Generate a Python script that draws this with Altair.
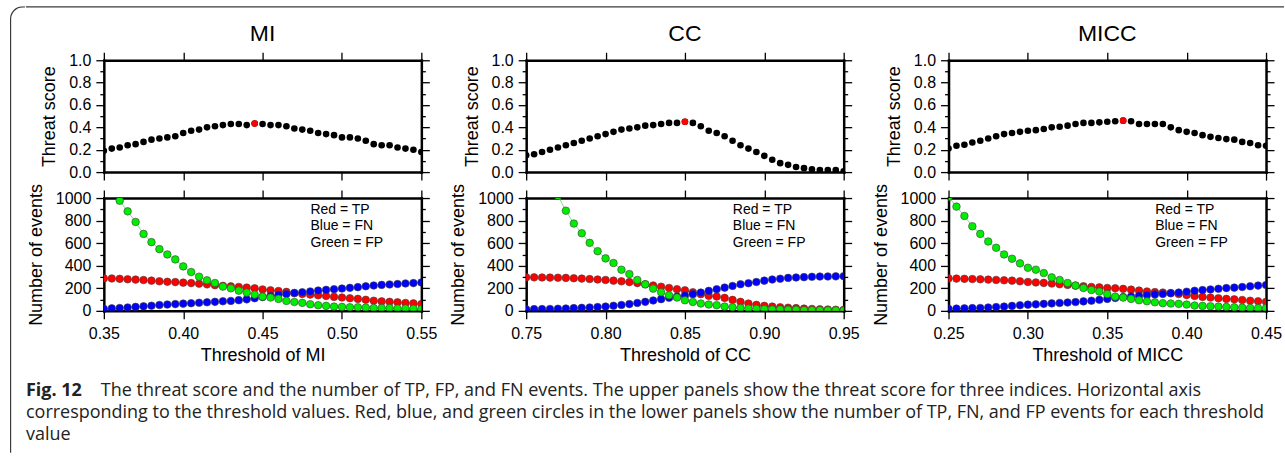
import altair as alt
import pandas as pd

# ---------------- data ----------------
THR_MI = [0.350, 0.355, 0.360, 0.365, 0.370, 0.375, 0.380, 0.385, 0.390, 0.395,
          0.400, 0.405, 0.410, 0.415, 0.420, 0.425, 0.430, 0.435, 0.440, 0.445,
          0.450, 0.455, 0.460, 0.465, 0.470, 0.475, 0.480, 0.485, 0.490, 0.495,
          0.500, 0.505, 0.510, 0.515, 0.520, 0.525, 0.530, 0.535, 0.540, 0.545, 0.550]
THR_CC = [0.750, 0.755, 0.760, 0.765, 0.770, 0.775, 0.780, 0.785, 0.790, 0.795,
          0.800, 0.805, 0.810, 0.815, 0.820, 0.825, 0.830, 0.835, 0.840, 0.845,
          0.850, 0.855, 0.860, 0.865, 0.870, 0.875, 0.880, 0.885, 0.890, 0.895,
          0.900, 0.905, 0.910, 0.915, 0.920, 0.925, 0.930, 0.935, 0.940, 0.945, 0.950]
THR_MICC = [0.250, 0.255, 0.260, 0.265, 0.270, 0.275, 0.280, 0.285, 0.290, 0.295,
            0.300, 0.305, 0.310, 0.315, 0.320, 0.325, 0.330, 0.335, 0.340, 0.345,
            0.350, 0.355, 0.360, 0.365, 0.370, 0.375, 0.380, 0.385, 0.390, 0.395,
            0.400, 0.405, 0.410, 0.415, 0.420, 0.425, 0.430, 0.435, 0.440, 0.445, 0.450]

TS_MI = [0.19, 0.21, 0.22, 0.24, 0.25, 0.27, 0.29, 0.30, 0.31, 0.32, 0.35, 0.37, 0.38, 0.40,
         0.41, 0.42, 0.43, 0.43, 0.42, 0.435, 0.43, 0.42, 0.42, 0.41, 0.39, 0.38, 0.37, 0.35,
         0.34, 0.33, 0.31, 0.31, 0.30, 0.28, 0.25, 0.24, 0.24, 0.22, 0.21, 0.20, 0.18]
TS_CC = [0.15, 0.16, 0.18, 0.20, 0.22, 0.24, 0.26, 0.28, 0.30, 0.32, 0.34, 0.36, 0.38, 0.39,
         0.40, 0.415, 0.42, 0.43, 0.44, 0.44, 0.45, 0.44, 0.41, 0.37, 0.35, 0.32, 0.28, 0.24,
         0.21, 0.18, 0.145, 0.11, 0.08, 0.065, 0.045, 0.035, 0.024, 0.018, 0.018, 0.018, 0.006]
TS_MICC = [0.21, 0.235, 0.245, 0.265, 0.28, 0.30, 0.32, 0.34, 0.35, 0.36, 0.37, 0.375, 0.385,
           0.40, 0.405, 0.415, 0.43, 0.44, 0.44, 0.445, 0.45, 0.455, 0.46, 0.455, 0.43, 0.43,
           0.43, 0.43, 0.40, 0.375, 0.36, 0.35, 0.33, 0.315, 0.305, 0.295, 0.29, 0.27, 0.26,
           0.24, 0.235]
BEST_MI = [0.445]
BEST_CC = [0.850]
BEST_MICC = [0.360]

TP_MI = [288, 287, 284, 280, 277, 273, 268, 262, 258, 255, 250, 246, 241, 235, 228, 222, 217,
         212, 206, 200, 190, 182, 176, 168, 158, 150, 144, 138, 132, 124, 118, 112, 106, 98,
         90, 84, 80, 76, 70, 66, 60]
FN_MI = [18, 22, 25, 30, 35, 40, 46, 52, 56, 60, 64, 68, 72, 76, 80, 85, 88, 95, 102, 112, 122,
         132, 142, 150, 158, 165, 172, 180, 186, 192, 198, 204, 210, 218, 225, 230, 234, 238,
         243, 246, 252]
FP_MI = [1200, 1090, 976, 882, 788, 682, 609, 547, 500, 456, 394, 344, 303, 271, 247, 215, 200,
         179, 162, 144, 126, 118, 106, 88, 79, 71, 59, 50, 44, 38, 35, 32, 32, 29, 26, 26, 24,
         21, 21, 18, 15]

TP_CC = [297, 297, 296, 295, 294, 292, 289, 286, 282, 278, 274, 268, 262, 255, 246, 236, 225,
         214, 203, 192, 182, 165, 148, 133, 127, 115, 97, 80, 65, 53, 44, 38, 32, 28, 24, 20,
         17, 14, 12, 10, 9]
FN_CC = [14, 15, 16, 17, 19, 21, 24, 27, 30, 34, 38, 45, 52, 60, 70, 80, 92, 104, 116, 126, 136,
         148, 162, 177, 192, 206, 221, 236, 245, 256, 268, 278, 285, 292, 296, 299, 302, 304,
         305, 306, 307]
FP_CC = [1640, 1470, 1310, 1160, 1020, 888, 774, 688, 603, 529, 465, 424, 365, 326, 274, 235,
         197, 165, 138, 118, 94, 79, 65, 56, 50, 38, 32, 26, 21, 18, 15, 12, 12, 9, 9, 6, 6, 6,
         5, 4, 3]

TP_MICC = [288, 286, 284, 282, 280, 277, 274, 271, 268, 262, 256, 252, 248, 242, 236, 230, 224,
           218, 212, 208, 203, 200, 195, 188, 180, 172, 166, 162, 158, 150, 140, 132, 124, 118,
           112, 106, 102, 96, 90, 85, 80]
FN_MICC = [18, 20, 22, 24, 26, 30, 34, 38, 44, 50, 55, 58, 62, 66, 70, 74, 78, 84, 90, 98, 106,
           114, 122, 128, 134, 140, 146, 150, 156, 162, 170, 178, 184, 190, 196, 202, 206, 212,
           218, 224, 229]
FP_MICC = [1010, 924, 841, 750, 682, 615, 559, 500, 462, 421, 382, 365, 335, 297, 274, 247, 224,
           203, 185, 171, 150, 126, 118, 106, 94, 85, 76, 68, 65, 62, 56, 47, 44, 41, 38, 35, 32,
           29, 26, 24, 24]

X_TICKS_MI = [0.35, 0.40, 0.45, 0.50, 0.55]
X_TICKS_CC = [0.75, 0.80, 0.85, 0.90, 0.95]
X_TICKS_MICC = [0.25, 0.30, 0.35, 0.40, 0.45]
TS_TICKS = [0.0, 0.1, 0.2, 0.3, 0.4, 0.5, 0.6, 0.7, 0.8, 0.9, 1.0]
N_TICKS = [0, 100, 200, 300, 400, 500, 600, 700, 800, 900, 1000]
LEGEND_TEXT = "Red = TP\nBlue = FN\nGreen = FP"

CAPTION_BOLD = "Fig. 12"
CAPTION_1 = ("The threat score and the number of TP, FP, and FN events. The upper panels show "
             "the threat score for three indices. Horizontal axis")
CAPTION_2 = ("corresponding to the threshold values. Red, blue, and green circles in the lower "
             "panels show the number of TP, FN, and FP events for each threshold\nvalue")

# ---------------- style ----------------
FONT = "Liberation Sans"
CAP_FONT = "Open Sans"
RED, BLUE, GREEN = "#ff0000", "#0000ff", "#00ee00"
W, H_TOP, H_BOT = 318, 112, 113
MAJ, MIN = 8, 4
FRAME_COLOR = "#3a3a3a"
CAP_SIZE = 18


def x_axes(ticks, title=None, labels=True):
    common = dict(values=ticks, format=".2f", tickSize=MAJ, labelFlush=False,
                  labelOverlap=False, grid=False, labelPadding=7, titlePadding=5)
    bottom = alt.Axis(orient="bottom", labels=labels, title=title, **common)
    top = alt.Axis(orient="top", labels=False, title=None, **common)
    return bottom, top


def y_axes(ticks, minor_test, label_test, fmt, title):
    tsz = {"condition": {"test": minor_test, "value": MIN}, "value": MAJ}
    left = alt.Axis(orient="left", values=ticks, format=fmt, tickSize=tsz, grid=False,
                    labelExpr=f"({label_test}) ? datum.label : ''", labelOverlap=False,
                    labelPadding=5, titlePadding=10, title=title)
    right = alt.Axis(orient="right", values=ticks, tickSize=tsz, grid=False, labels=False,
                     title=None)
    return left, right


def panel(name, thr, ts, best, tp, fn, fp, xticks):
    xs = alt.Scale(domain=[thr[0], thr[-1]], nice=False, zero=False)
    # ---- top: threat score
    df_ts = pd.DataFrame({"thr": thr, "ts": ts})
    df_best = df_ts[df_ts["thr"].isin(best)]
    ys = alt.Scale(domain=[0, 1], nice=False)
    xb, xt = x_axes(xticks, None, labels=False)
    yl, yr = y_axes(TS_TICKS, "round(datum.value*10) % 2 == 1",
                    "round(datum.value*10) % 2 == 0", ".1f", "Threat score")
    base = alt.Chart(df_ts)
    c1 = base.mark_point(opacity=0).encode(x=alt.X("thr:Q", scale=xs, axis=xb),
                                           y=alt.Y("ts:Q", scale=ys, axis=yl))
    c2 = base.mark_point(opacity=0).encode(x=alt.X("thr:Q", scale=xs, axis=xt),
                                           y=alt.Y("ts:Q", scale=ys, axis=yr))
    dots = base.mark_circle(color="black", opacity=1, size=44, clip=True).encode(
        x=alt.X("thr:Q", scale=xs, axis=None), y=alt.Y("ts:Q", scale=ys, axis=None))
    bestdot = alt.Chart(df_best).mark_circle(color=RED, opacity=1, size=44, clip=True).encode(
        x=alt.X("thr:Q", scale=xs, axis=None), y=alt.Y("ts:Q", scale=ys, axis=None))
    top = alt.layer(c1, c2, dots, bestdot).resolve_axis(x="independent", y="independent").properties(
        width=W, height=H_TOP,
        title=alt.TitleParams(name, fontSize=23, font=FONT, fontWeight="normal",
                              anchor="middle", offset=6, color="black"))

    # ---- bottom: event counts
    df_n = pd.DataFrame({"thr": thr, "tp": tp, "fn": fn, "fp": fp})
    yn = alt.Scale(domain=[0, 1000], nice=False)
    xb2, xt2 = x_axes(xticks, f"Threshold of {name}", labels=True)
    yl2, yr2 = y_axes(N_TICKS, "datum.value % 200 == 100", "datum.value % 200 == 0", "d",
                      "Number of events")
    nb = alt.Chart(df_n)
    layers = [
        nb.mark_point(opacity=0).encode(x=alt.X("thr:Q", scale=xs, axis=xb2),
                                        y=alt.Y("tp:Q", scale=yn, axis=yl2)),
        nb.mark_point(opacity=0).encode(x=alt.X("thr:Q", scale=xs, axis=xt2),
                                        y=alt.Y("tp:Q", scale=yn, axis=yr2)),
    ]
    for col, lc in [("tp", "#ff9090"), ("fn", "#9090ff"), ("fp", "#80e080")]:
        layers.append(nb.mark_line(color=lc, strokeWidth=1, clip=True).encode(
            x=alt.X("thr:Q", scale=xs, axis=None), y=alt.Y(f"{col}:Q", scale=yn, axis=None)))
    for col, c in [("tp", RED), ("fn", BLUE), ("fp", GREEN)]:
        layers.append(nb.mark_point(filled=True, fill=c, stroke="#404040", strokeWidth=0.6,
                                    opacity=1, size=58, shape="circle", clip=True).encode(
            x=alt.X("thr:Q", scale=xs, axis=None), y=alt.Y(f"{col}:Q", scale=yn, axis=None)))
    layers.append(alt.Chart(pd.DataFrame({"t": [LEGEND_TEXT]})).mark_text(
        align="left", baseline="top", lineBreak="\n", fontSize=14, lineHeight=16.5,
        font=FONT, color="black").encode(text="t:N", x=alt.value(207), y=alt.value(5)))
    bot = alt.layer(*layers).resolve_axis(x="independent", y="independent").properties(
        width=W, height=H_BOT)
    return alt.vconcat(top, bot, spacing=2)


cols = [
    panel("MI", THR_MI, TS_MI, BEST_MI, TP_MI, FN_MI, FP_MI, X_TICKS_MI),
    panel("CC", THR_CC, TS_CC, BEST_CC, TP_CC, FN_CC, FP_CC, X_TICKS_CC),
    panel("MICC", THR_MICC, TS_MICC, BEST_MICC, TP_MICC, FN_MICC, FP_MICC, X_TICKS_MICC),
]
plots = alt.hconcat(*cols, spacing=12)

one = pd.DataFrame({"a": [0]})
cap = alt.layer(
    alt.Chart(one).mark_text(text=CAPTION_BOLD, align="left", baseline="alphabetic",
                             fontSize=CAP_SIZE, font=CAP_FONT, fontWeight="bold",
                             color="#222").encode(x=alt.value(-78), y=alt.value(14)),
    alt.Chart(one).mark_text(text=CAPTION_1, align="left", baseline="alphabetic",
                             fontSize=CAP_SIZE, font=CAP_FONT, color="#222").encode(
        x=alt.value(-3), y=alt.value(14)),
    alt.Chart(one).mark_text(text=CAPTION_2, align="left", baseline="alphabetic",
                             fontSize=CAP_SIZE, font=CAP_FONT, color="#222", lineBreak="\n",
                             lineHeight=22).encode(x=alt.value(-78), y=alt.value(36.5)),
).properties(width=1100, height=50)

inner = alt.vconcat(plots, cap, spacing=17)

# figure frame: left edge with rounded corner, then the top edge
left_frame = alt.Chart(one).mark_rect(fill="transparent", stroke=FRAME_COLOR, strokeWidth=1.2,
                                      cornerRadius=12, clip=True).encode(
    x=alt.value(0.6), x2=alt.value(200), y=alt.value(0.6), y2=alt.value(600)).properties(
    width=15, height=447)
top_line = alt.Chart(one).mark_rule(color=FRAME_COLOR, strokeWidth=1.2).encode(
    x=alt.value(-78), x2=alt.value(1182), y=alt.value(0.6)).properties(width=1100, height=1)

main = alt.vconcat(top_line, inner, spacing=14)
chart = alt.hconcat(left_frame, main, spacing=0).properties(
    padding={"left": 10, "top": 6, "right": 0, "bottom": 0}, background="white"
).configure_view(stroke=None).configure_axis(
    labelFont=FONT, labelFontSize=16, labelColor="black",
    titleFont=FONT, titleFontSize=18, titleFontWeight="normal", titleColor="black",
    domainColor="black", domainWidth=2.5, domainCap="square",
    tickColor="black", tickWidth=1.3
)

chart.save("out.html", embed_options={"renderer": "svg", "actions": False})
